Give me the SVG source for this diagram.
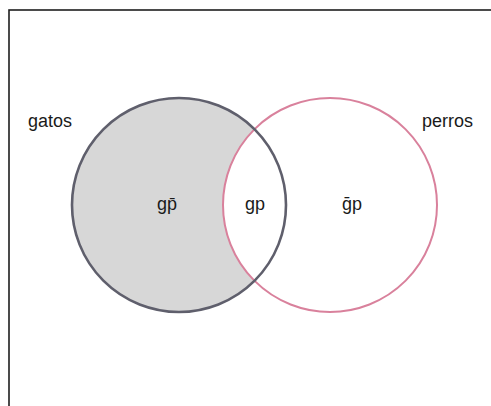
<svg xmlns="http://www.w3.org/2000/svg" width="491" height="406" viewBox="0 0 491 406">
<style>
.lbl{font-family:"Liberation Sans","DejaVu Sans",sans-serif;font-size:18px;fill:#1a1a1a}
.set{font-family:"Liberation Sans","DejaVu Sans",sans-serif;font-size:18px;fill:#1a1a1a;text-anchor:middle}
</style>
<rect width="491" height="406" fill="#ffffff"/>
<rect x="9" y="10" width="500" height="420" fill="none" stroke="#1e1e1e" stroke-width="1.6"/>
<g id="gatos">
<circle cx="179" cy="205" r="107" fill="#d7d7d7"/>
</g>
<g id="perros">
<circle cx="330" cy="205" r="107" fill="#ffffff" stroke="#d9819c" stroke-width="2"/>
</g>
<g id="gatos-outline">
<circle cx="179" cy="205" r="107" fill="none" stroke="#5f5f6c" stroke-width="2.6"/>
</g>
<g id="labels">
<text class="lbl" x="28" y="127">gatos</text>
<text class="lbl" x="422" y="127">perros</text>
<text class="set" x="167" y="210">gp̄</text>
<text class="set" x="255" y="210">gp</text>
<text class="set" x="352" y="210">ḡp</text>
</g>
</svg>
